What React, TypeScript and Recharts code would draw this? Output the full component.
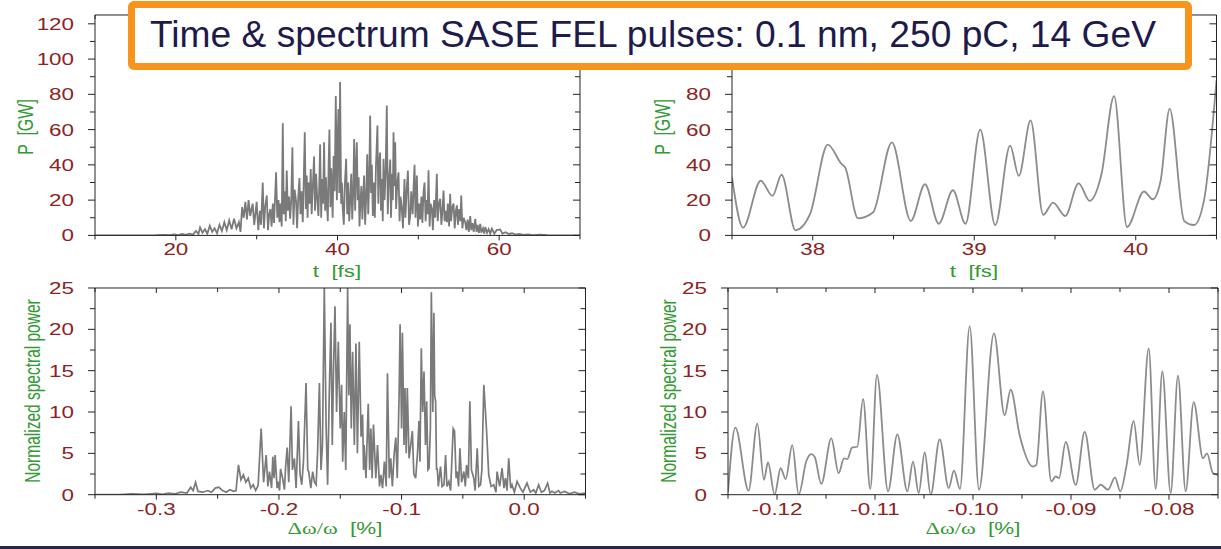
import React from 'react';
import { LineChart, Line, XAxis, YAxis } from 'recharts';

type Pt = [number, number];

// whole pulse, [t fs, P GW]
const pulseFull: Pt[] = [
  [10, 0], [16, 0], [17.5, 0.1], [18.5, 0.3], [19.2, 0.1], [19.8, 0.5], [20.3, 0.2], [20.8, 0.8], [21.2, 0.3],
  [21.7, 1.0], [22.1, 0.4], [22.5, 2.5], [22.8, 0.8], [23.0, 4.5], [23.3, 1.5], [23.6, 3.5], [23.9, 1.0],
  [24.2, 5.5], [24.5, 2.0], [24.8, 4.0], [25.1, 1.2], [25.4, 6.0], [25.7, 2.5], [26.0, 7.5], [26.3, 3.0],
  [26.6, 8.5], [26.9, 3.5], [27.2, 9.5], [27.5, 4.0], [27.8, 7.5], [28.0, 2.0], [28.2, 16], [28.4, 10],
  [28.6, 19], [28.8, 9], [29.0, 20], [29.2, 11], [29.5, 18], [29.7, 6], [30.0, 19], [30.2, 3], [30.4, 14],
  [30.55, 6], [30.75, 30], [30.9, 4], [31.05, 16], [31.25, 22.6], [31.4, 3], [31.55, 12], [31.7, 15],
  [31.85, 5], [32.0, 18], [32.15, 7], [32.4, 35.8], [32.55, 10], [32.7, 20], [32.82, 7.5], [32.95, 18],
  [33.1, 5], [33.23, 63.6], [33.35, 12], [33.5, 25], [33.6, 8], [33.72, 36.8], [33.85, 14], [34.0, 22],
  [34.14, 9.4], [34.28, 20], [34.42, 50], [34.55, 6], [34.7, 26], [34.88, 19], [35.0, 4], [35.15, 22],
  [35.29, 32.5], [35.42, 12], [35.55, 25], [35.7, 7.5], [35.82, 30], [35.95, 58.5], [36.08, 15], [36.2, 34],
  [36.3, 10], [36.4, 30], [36.55, 18], [36.69, 37.7], [36.8, 12], [36.95, 28], [37.1, 44.7], [37.22, 14],
  [37.35, 35], [37.5, 20], [37.64, 11], [37.75, 30], [37.85, 51.5], [37.98, 10], [38.1, 32], [38.22, 18],
  [38.34, 52.8], [38.47, 14], [38.57, 33], [38.67, 19], [38.8, 8], [38.9, 40], [39.0, 60], [39.12, 16],
  [39.22, 38], [39.29, 30], [39.4, 10], [39.52, 45], [39.65, 25], [39.79, 79], [39.92, 20], [40.02, 55],
  [40.12, 71.7], [40.22, 24], [40.32, 87], [40.45, 18], [40.55, 30], [40.65, 15], [40.78, 6], [40.9, 28],
  [41.07, 43.4], [41.2, 12], [41.32, 30], [41.45, 8], [41.56, 19], [41.7, 35], [41.82, 9], [41.95, 25],
  [42.06, 54.7], [42.18, 14], [42.3, 40], [42.39, 52.8], [42.5, 20], [42.62, 33], [42.72, 5], [42.8, 15],
  [42.95, 28], [43.08, 9], [43.18, 22], [43.29, 34], [43.42, 6], [43.55, 22], [43.68, 46], [43.8, 12],
  [43.92, 30], [44.04, 68], [44.15, 24], [44.25, 40], [44.37, 11], [44.5, 30], [44.62, 10], [44.75, 38],
  [44.94, 62.3], [45.05, 18], [45.15, 40], [45.27, 47], [45.38, 14], [45.5, 32], [45.6, 8], [45.69, 43.4],
  [45.82, 20], [45.95, 35], [46.1, 73.6], [46.22, 12], [46.35, 30], [46.52, 43], [46.62, 10], [46.75, 35],
  [46.85, 20], [46.93, 58.5], [47.04, 28], [47.14, 52.8], [47.25, 15], [47.4, 30], [47.55, 35.8], [47.68, 8],
  [47.8, 22], [47.96, 15], [48.1, 4], [48.2, 20], [48.29, 32], [48.4, 10], [48.55, 25], [48.71, 36.8],
  [48.85, 6], [49.0, 11], [49.12, 25], [49.3, 12], [49.42, 28], [49.53, 40], [49.65, 10], [49.82, 34],
  [49.95, 5], [50.1, 18], [50.23, 9], [50.38, 22], [50.5, 7], [50.65, 25], [50.77, 30], [50.9, 8],
  [51.05, 20], [51.15, 12], [51.26, 37], [51.4, 5], [51.52, 18], [51.68, 15], [51.8, 3], [51.95, 20],
  [52.1, 10], [52.29, 35], [52.4, 8], [52.55, 18], [52.71, 20.8], [52.85, 6], [53.0, 15], [53.12, 25.5],
  [53.25, 8], [53.4, 14], [53.53, 7.5], [53.65, 18], [53.8, 5], [53.94, 23.6], [54.05, 8], [54.2, 16],
  [54.36, 18], [54.5, 4], [54.65, 14], [54.77, 17], [54.9, 6], [55.05, 15], [55.2, 8], [55.31, 22.6],
  [55.45, 4], [55.6, 10], [55.8, 7.5], [55.95, 3], [56.1, 9], [56.25, 2], [56.42, 11], [56.55, 3],
  [56.7, 7], [56.85, 2], [57.04, 9.4], [57.2, 2], [57.35, 6], [57.5, 1.5], [57.66, 6.6], [57.8, 1.5],
  [58.0, 4], [58.15, 1], [58.28, 4.7], [58.5, 1.5], [58.7, 3.5], [58.9, 1], [59.1, 3.8], [59.4, 1],
  [59.7, 3], [60.13, 3.4], [60.4, 1], [60.8, 1.8], [61.2, 0.8], [61.6, 1.2], [62.0, 0.4], [62.5, 0.8],
  [63.0, 0.3], [63.6, 0.6], [64.2, 0.2], [65, 0.4], [66, 0.1], [70, 0],
];

// zoom on 37.5 - 40.5 fs
const pulseZoom: Pt[] = [
  [37.5, 32.9], [37.568, 4.4], [37.678, 31], [37.751, 22.4], [37.807, 34.4], [37.893, 2.9], [37.983, 12],
  [38.093, 51.5], [38.178, 40.5], [38.2, 38.6], [38.28, 9.7], [38.373, 13], [38.49, 52.8], [38.607, 8.2],
  [38.695, 29], [38.78, 6.6], [38.868, 25.6], [38.946, 6.6], [39.037, 60], [39.13, 5.9], [39.222, 50.9],
  [39.276, 33.8], [39.349, 65.2], [39.427, 11.6], [39.488, 18.6], [39.563, 11], [39.646, 29.5],
  [39.715, 19.6], [39.788, 34.8], [39.866, 79], [39.946, 4.75], [40.051, 24.9], [40.105, 20.5],
  [40.154, 31], [40.21, 71.8], [40.3, 8.2], [40.361, 5.9], [40.422, 19.6], [40.5, 88],
];

// whole spectrum, [dw/w %, normalized spectral power]
const specFull: Pt[] = [
  [-0.35, 0], [-0.33, 0], [-0.32, 0.1], [-0.31, 0.05], [-0.3, 0.15], [-0.295, 0.05], [-0.29, 0.2],
  [-0.285, 0.1], [-0.28, 0.3], [-0.275, 0.2], [-0.272, 0.9], [-0.27, 0.5], [-0.268, 1.5], [-0.266, 0.4],
  [-0.262, 0.3], [-0.258, 0.5], [-0.255, 0.3], [-0.252, 0.8], [-0.249, 0.9], [-0.246, 0.5], [-0.243, 0.3],
  [-0.24, 0.6], [-0.237, 0.4], [-0.235, 0.5], [-0.233, 3.6], [-0.231, 1.8], [-0.229, 2.4], [-0.227, 1.5],
  [-0.225, 2.0], [-0.223, 0.8], [-0.221, 1.2], [-0.219, 0.5], [-0.217, 1.1], [-0.2145, 8.0], [-0.2125, 1.5],
  [-0.2104, 4.8], [-0.209, 1.0], [-0.2077, 2.8], [-0.206, 0.8], [-0.205, 4.6], [-0.204, 2.0], [-0.2031, 4.8],
  [-0.2015, 0.8], [-0.2009, 1.6], [-0.1995, 0.5], [-0.1987, 3.1], [-0.197, 2.0], [-0.1955, 0.6],
  [-0.1945, 3.5], [-0.1933, 5.7], [-0.192, 1.5], [-0.1901, 10.7], [-0.189, 3.0], [-0.1874, 4.4],
  [-0.186, 0.8], [-0.1841, 8.9], [-0.1828, 2.5], [-0.1814, 1.2], [-0.18, 4.0], [-0.1779, 13.5],
  [-0.1765, 3.0], [-0.1757, 2.8], [-0.174, 0.8], [-0.1725, 2.8], [-0.171, 1.5], [-0.1697, 1.2],
  [-0.1685, 5.0], [-0.167, 13.5], [-0.1657, 3.0], [-0.1645, 6.0], [-0.163, 25], [-0.1615, 8.0],
  [-0.1603, 1.2], [-0.159, 12], [-0.1576, 20.8], [-0.1565, 6], [-0.1555, 15], [-0.1543, 22.8],
  [-0.153, 10], [-0.1516, 18.5], [-0.15, 8], [-0.1489, 13.3], [-0.148, 4], [-0.1467, 10], [-0.1455, 3],
  [-0.144, 25], [-0.143, 12], [-0.1421, 20.6], [-0.141, 8], [-0.1399, 17.3], [-0.1385, 6], [-0.1372, 18.3],
  [-0.136, 5], [-0.1345, 18.5], [-0.133, 7], [-0.1318, 9.7], [-0.131, 3], [-0.1305, 6], [-0.129, 2],
  [-0.1272, 11], [-0.126, 3], [-0.125, 8], [-0.124, 2], [-0.1229, 8.5], [-0.121, 2], [-0.1196, 6],
  [-0.118, 1], [-0.1169, 2.4], [-0.1155, 0.8], [-0.114, 4], [-0.1125, 1], [-0.1115, 14.7], [-0.11, 2],
  [-0.1088, 4.4], [-0.1075, 1], [-0.106, 5], [-0.1047, 6.9], [-0.1035, 2], [-0.102, 12], [-0.1012, 20.6],
  [-0.1, 8], [-0.0993, 19.6], [-0.098, 6], [-0.0972, 12.9], [-0.0962, 5], [-0.0953, 12.9], [-0.0939, 4.4],
  [-0.0925, 6], [-0.0912, 7.7], [-0.09, 2.5], [-0.0885, 2], [-0.087, 5], [-0.0858, 8.9], [-0.085, 4],
  [-0.0839, 17.7], [-0.0828, 10], [-0.0817, 14.9], [-0.0805, 6], [-0.0795, 11.3], [-0.0785, 3],
  [-0.0776, 3.2], [-0.0765, 8], [-0.0757, 24.5], [-0.0745, 10], [-0.0736, 22], [-0.073, 12],
  [-0.0722, 11.3], [-0.0715, 3], [-0.0709, 3.2], [-0.07, 1], [-0.0682, 3.4], [-0.067, 1], [-0.0654, 1.2],
  [-0.0641, 4.8], [-0.063, 1], [-0.0614, 1.6], [-0.06, 0.5], [-0.0579, 8.0], [-0.0568, 7.7], [-0.0555, 2],
  [-0.0546, 2.8], [-0.0535, 1], [-0.0524, 5.6], [-0.051, 1.5], [-0.0492, 2.8], [-0.048, 1], [-0.047, 3.6],
  [-0.0455, 2], [-0.0443, 11.3], [-0.043, 3], [-0.0411, 2], [-0.04, 0.5], [-0.0383, 5.6], [-0.037, 1],
  [-0.0356, 1.2], [-0.0345, 3], [-0.0329, 13.3], [-0.0308, 8.1], [-0.0289, 2.4], [-0.027, 1],
  [-0.0248, 1.2], [-0.023, 0.3], [-0.0221, 2.8], [-0.02, 1], [-0.018, 3.2], [-0.0165, 0.8], [-0.0153, 2],
  [-0.014, 0.5], [-0.0126, 4.4], [-0.011, 0.8], [-0.0099, 1.2], [-0.008, 0.3], [-0.0058, 1.6],
  [-0.0031, 0.8], [-0.001, 0.3], [0.0023, 1.4], [0.005, 0.3], [0.0077, 0.6], [0.0095, 0.2], [0.0118, 1.2],
  [0.014, 0.3], [0.0165, 0.5], [0.0191, 1.4], [0.021, 0.2], [0.0226, 0.4], [0.025, 0.2], [0.028, 0.5],
  [0.0294, 0.2], [0.033, 0.4], [0.037, 0.1], [0.041, 0.3], [0.045, 0.1], [0.05, 0.2],
];

// zoom on -0.125 .. -0.075 %
const specZoom: Pt[] = [
  [-0.125, 0.3], [-0.12425, 8.1], [-0.1229, 0.5], [-0.12201, 8.6], [-0.12133, 1.8], [-0.12092, 3.9],
  [-0.12024, 0], [-0.11963, 3.2], [-0.11912, 1.9], [-0.11844, 6.0], [-0.11779, 0], [-0.117, 4.1],
  [-0.1165, 4.9], [-0.11616, 4.6], [-0.11548, 1.3], [-0.11446, 6.8], [-0.11371, 2.6], [-0.11316, 4.4],
  [-0.11282, 4.3], [-0.11235, 5.7], [-0.1118, 5.8], [-0.11122, 11.6], [-0.11048, 0.7], [-0.1098, 14.5],
  [-0.10867, 0.4], [-0.10772, 7.3], [-0.1067, 0.4], [-0.10612, 4.0], [-0.10554, 0.2], [-0.10493, 5.1],
  [-0.10432, 0], [-0.1034, 6.7], [-0.10248, 0.8], [-0.10194, 2.9], [-0.10133, 0.7], [-0.10034, 20.4],
  [-0.09939, 0.6], [-0.09786, 19.5], [-0.09677, 9.6], [-0.09616, 12.7], [-0.09524, 7.2], [-0.09388, 3.4],
  [-0.09354, 3.6], [-0.09286, 12.5], [-0.09201, 1.6], [-0.09156, 2.2], [-0.09122, 2.0], [-0.09054, 6.4],
  [-0.08952, 1.2], [-0.0886, 7.6], [-0.08758, 0.6], [-0.08697, 1.2], [-0.08622, 0.6], [-0.08551, 2.1],
  [-0.08497, 0.4], [-0.08435, 3.4], [-0.0836, 8.9], [-0.08299, 3.6], [-0.08207, 17.7], [-0.08136, 0.7],
  [-0.08068, 14.9], [-0.07983, 0.2], [-0.07908, 14.4], [-0.0783, 0.4], [-0.07748, 11.2], [-0.07653, 4.4],
  [-0.07612, 5.0], [-0.07551, 2.6], [-0.075, 2.4],
];

const tFullTicks = [10, 20, 30, 40, 50, 60, 70];
const tFullLabels = [20, 40, 60];
const tZoomTicks = [37.5, 38, 38.5, 39, 39.5, 40, 40.5];
const tZoomLabels = [38, 39, 40];
const powerTicks = [0, 10, 20, 30, 40, 50, 60, 70, 80, 90, 100, 110, 120];
const powerLabels = [0, 20, 40, 60, 80, 100, 120];
// right-hand power axis: 100 and 120 sit under the title box
const powerLabelsShown = [0, 20, 40, 60, 80];
const dwFullTicks = [-0.35, -0.3, -0.25, -0.2, -0.15, -0.1, -0.05, 0, 0.05];
const dwFullLabels = [-0.3, -0.2, -0.1, 0];
const dwZoomTicks = [-0.125, -0.12, -0.115, -0.11, -0.105, -0.1, -0.095, -0.09, -0.085, -0.08, -0.075];
const dwZoomLabels = [-0.12, -0.11, -0.1, -0.09, -0.08];
const specTicks = [0, 2.5, 5, 7.5, 10, 12.5, 15, 17.5, 20, 22.5, 25];
const specLabels = [0, 5, 10, 15, 20, 25];

const TITLE = 'Time & spectrum SASE FEL pulses: 0.1 nm, 250 pC, 14 GeV';

const SANS = '"Liberation Sans", Arial, Helvetica, sans-serif';
const SERIF = '"Liberation Serif", "Times New Roman", serif';
const RED = '#8c2222';
const GREEN = '#339933';
const FRAME = '#222';
const STRETCH = 1.4; // the slide was squashed, text comes out wide

type Side = 'left' | 'right' | 'top' | 'bottom';

const isOn = (list: number[], v: number) => list.some((m) => Math.abs(m - v) < 1e-9);

// ticks point left / down on every side (outward on left+bottom, inward on right+top)
const makeTick = (side: Side, majors: number[], shown: number[], fmt: (v: number) => string) =>
  function AxisTick(props: any) {
    const { x, y, payload } = props;
    const v = Number(payload.value);
    const major = isOn(majors, v);
    const label = isOn(shown, v);
    if (side === 'left' || side === 'right') {
      const len = major ? 7 : 5;
      return (
        <g>
          <line x1={x} y1={y} x2={x - len} y2={y} stroke={FRAME} strokeWidth={1} />
          {side === 'left' && label && (
            <text
              transform={`translate(${x - 21},${y + 6}) scale(${STRETCH},1)`}
              textAnchor="end"
              fontSize={16}
              fontFamily={SANS}
              fill={RED}
            >
              {fmt(v)}
            </text>
          )}
        </g>
      );
    }
    const len = major ? 5 : 4;
    return (
      <g>
        <line x1={x} y1={y} x2={x} y2={y + len} stroke={FRAME} strokeWidth={1} />
        {side === 'bottom' && label && (
          <text
            transform={`translate(${x},${y + 20}) scale(${STRETCH},1)`}
            textAnchor="middle"
            fontSize={16}
            fontFamily={SANS}
            fill={RED}
          >
            {fmt(v)}
          </text>
        )}
      </g>
    );
  };

const AXIS_W = 90;
const AXIS_H = 50;
const PAD = 10;

interface PanelProps {
  left: number;
  top: number;
  width: number;
  height: number;
  points: Pt[];
  xDomain: [number, number];
  yDomain: [number, number];
  xTicks: number[];
  xLabels: number[];
  xFmt: (v: number) => string;
  yTicks: number[];
  yLabels: number[];
  yShown?: number[];
  curve: 'linear' | 'monotone';
  stroke: string;
  strokeWidth: number;
}

const Panel: React.FC<PanelProps> = (p) => {
  const rows = p.points.map(([x, y]) => ({ x, y }));
  const yFmt = (v: number) => String(v);
  const yShown = p.yShown ?? p.yLabels;
  return (
    <div style={{ position: 'absolute', left: p.left - AXIS_W, top: p.top - PAD }}>
      <LineChart
        width={p.width + AXIS_W + PAD}
        height={p.height + PAD + AXIS_H}
        data={rows}
        margin={{ top: PAD, right: PAD, bottom: 0, left: 0 }}
      >
        <XAxis
          dataKey="x"
          type="number"
          domain={p.xDomain}
          allowDataOverflow
          ticks={p.xTicks}
          interval={0}
          height={AXIS_H}
          tickSize={0}
          tickMargin={0}
          tickLine={false}
          axisLine={{ stroke: FRAME }}
          tick={makeTick('bottom', p.xLabels, p.xLabels, p.xFmt)}
        />
        <XAxis
          xAxisId="top"
          orientation="top"
          mirror
          dataKey="x"
          type="number"
          domain={p.xDomain}
          allowDataOverflow
          ticks={p.xTicks}
          interval={0}
          tickSize={0}
          tickMargin={0}
          tickLine={false}
          axisLine={{ stroke: FRAME }}
          tick={makeTick('top', p.xLabels, [], p.xFmt)}
        />
        <YAxis
          type="number"
          domain={p.yDomain}
          allowDataOverflow
          ticks={p.yTicks}
          interval={0}
          width={AXIS_W}
          tickSize={0}
          tickMargin={0}
          tickLine={false}
          axisLine={{ stroke: FRAME }}
          tick={makeTick('left', p.yLabels, yShown, yFmt)}
        />
        <YAxis
          yAxisId="right"
          orientation="right"
          mirror
          type="number"
          domain={p.yDomain}
          allowDataOverflow
          ticks={p.yTicks}
          interval={0}
          tickSize={0}
          tickMargin={0}
          tickLine={false}
          axisLine={{ stroke: FRAME }}
          tick={makeTick('right', p.yLabels, [], yFmt)}
        />
        <Line
          type={p.curve}
          dataKey="y"
          stroke={p.stroke}
          strokeWidth={p.strokeWidth}
          dot={false}
          isAnimationActive={false}
        />
      </LineChart>
    </div>
  );
};

const XTitle = ({ cx, y, children }: { cx: number; y: number; children: React.ReactNode }) => (
  <text
    transform={`translate(${cx},${y}) scale(${STRETCH},1)`}
    textAnchor="middle"
    fontSize={16}
    fontFamily={SANS}
    fill={GREEN}
    style={{ whiteSpace: 'pre' }}
  >
    {children}
  </text>
);

const YTitle = ({ cx, cy, size, text }: { cx: number; cy: number; size: number; text: string }) => (
  <text
    transform={`translate(${cx},${cy}) scale(${STRETCH},1) rotate(-90)`}
    textAnchor="middle"
    dominantBaseline="central"
    fontSize={size}
    fontFamily={SANS}
    fill={GREEN}
    style={{ whiteSpace: 'pre' }}
  >
    {text}
  </text>
);

const dwTitle = (
  <>
    <tspan fontFamily={SERIF}>Δω/ω</tspan>
    <tspan>{'  [%]'}</tspan>
  </>
);

export default function App() {
  return (
    <div
      style={{
        position: 'absolute',
        left: 0,
        top: 0,
        width: 1221,
        height: 549,
        background: '#fff',
        overflow: 'hidden',
      }}
    >
      <Panel
        left={95} top={14.6} width={485} height={220.4}
        points={pulseFull} xDomain={[10, 70]} yDomain={[0, 125]}
        xTicks={tFullTicks} xLabels={tFullLabels} xFmt={(v) => String(v)}
        yTicks={powerTicks} yLabels={powerLabels}
        curve="linear" stroke="#7a7a7a" strokeWidth={1.8}
      />
      <Panel
        left={731.5} top={14.6} width={484.5} height={220.4}
        points={pulseZoom} xDomain={[37.5, 40.5]} yDomain={[0, 125]}
        xTicks={tZoomTicks} xLabels={tZoomLabels} xFmt={(v) => String(v)}
        yTicks={powerTicks} yLabels={powerLabels} yShown={powerLabelsShown}
        curve="monotone" stroke="#8c8c8c" strokeWidth={1.8}
      />
      <Panel
        left={95} top={288.3} width={490.5} height={206.7}
        points={specFull} xDomain={[-0.35, 0.05]} yDomain={[0, 25]}
        xTicks={dwFullTicks} xLabels={dwFullLabels} xFmt={(v) => v.toFixed(1)}
        yTicks={specTicks} yLabels={specLabels}
        curve="linear" stroke="#7a7a7a" strokeWidth={1.7}
      />
      <Panel
        left={728.3} top={288.3} width={490} height={206.7}
        points={specZoom} xDomain={[-0.125, -0.075]} yDomain={[0, 25]}
        xTicks={dwZoomTicks} xLabels={dwZoomLabels} xFmt={(v) => v.toFixed(2)}
        yTicks={specTicks} yLabels={specLabels}
        curve="monotone" stroke="#8c8c8c" strokeWidth={1.8}
      />

      {/* axis titles */}
      <svg width={1221} height={549} style={{ position: 'absolute', left: 0, top: 0, pointerEvents: 'none' }}>
        <XTitle cx={337} y={277}>{'t  [fs]'}</XTitle>
        <XTitle cx={974} y={277}>{'t  [fs]'}</XTitle>
        <XTitle cx={335} y={534}>{dwTitle}</XTitle>
        <XTitle cx={973} y={534}>{dwTitle}</XTitle>
        <YTitle cx={25} cy={127} size={16} text="P  [GW]" />
        <YTitle cx={662} cy={127} size={16} text="P  [GW]" />
        <YTitle cx={33} cy={391} size={15.5} text="Normalized spectral power" />
        <YTitle cx={669} cy={391} size={15.5} text="Normalized spectral power" />
      </svg>

      {/* slide title box */}
      <div
        style={{
          position: 'absolute',
          left: 128,
          top: 1,
          width: 1064,
          height: 69,
          boxSizing: 'border-box',
          border: '7px solid #f7941d',
          borderRadius: 6,
          background: '#fff',
        }}
      />
      <svg width={1221} height={80} style={{ position: 'absolute', left: 0, top: 0, pointerEvents: 'none' }}>
        <text
          x={150}
          y={47}
          fontSize={37}
          fontFamily={SANS}
          fill="#1e1a4a"
          textLength={1006}
          lengthAdjust="spacingAndGlyphs"
        >
          {TITLE}
        </text>
      </svg>

      <div style={{ position: 'absolute', left: 0, top: 546, width: 1221, height: 3, background: '#2a2450' }} />
    </div>
  );
}
